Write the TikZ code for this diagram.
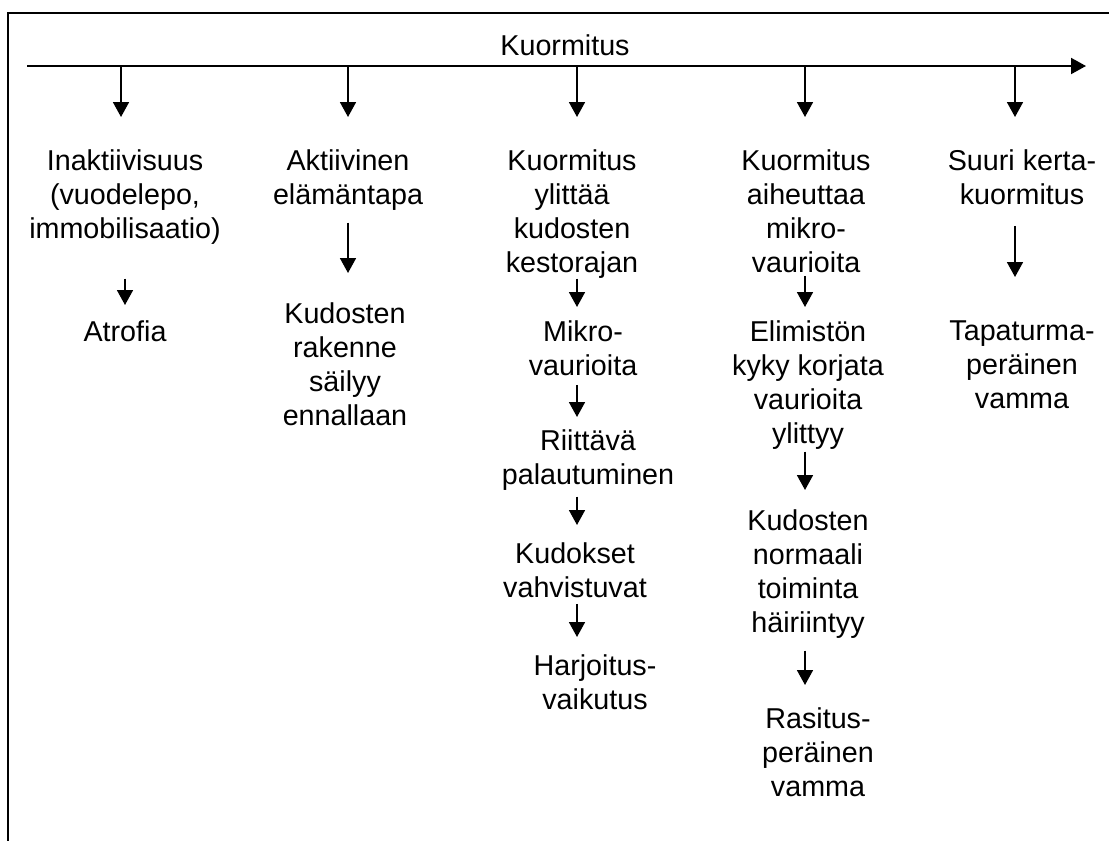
\documentclass[tikz,border=0pt]{standalone}
\usepackage{fontspec}
\setmainfont{Liberation Sans}
\usetikzlibrary{arrows.meta}

\tikzset{
  txt/.style={align=center, inner sep=0pt, anchor=north,
    font=\fontsize{14.35pt}{17pt}\selectfont},
  arr/.style={-{Triangle[length=7.5pt,width=8pt]}, line width=0.9pt},
}

\begin{document}
\begin{tikzpicture}[x=0.5pt, y=-0.5pt]
    \useasboundingbox (0,0) rectangle (1109,841);
    \draw[line width=0.8pt] (1109,13) -- (8,13) -- (8,841);

    \node[txt, anchor=center] (K) at (565,45) {Kuormitus};
    \coordinate (s) at (27,66);
    \coordinate (e) at (1086,66);
    \coordinate (k1) at (121,66);
    \coordinate (k2) at (348,66);
    \coordinate (k3) at (577,66);
    \coordinate (k4) at (805,66);
    \coordinate (k5) at (1015,66);

    \node[txt] (I) at (125,149) {Inaktiivisuus\\(vuodelepo,\\immobilisaatio)};
    \node[txt] (At) at (125,320) {Atrofia};
    \node[txt] (Ak) at (348,149) {Aktiivinen\\elämäntapa};
    \node[txt] (Ks) at (345,302) {Kudosten\\rakenne\\säilyy\\ennallaan};
    \node[txt] (Y) at (572,149) {Kuormitus\\ylittää\\kudosten\\kestorajan};
    \node[txt] (M) at (583,320) {Mikro-\\vaurioita};
    \node[txt] (R) at (588,429) {Riittävä\\palautuminen};
    \node[txt] (V) at (575,542) {Kudokset\\vahvistuvat};
    \node[txt] (H) at (595,654) {Harjoitus-\\vaikutus};
    \node[txt] (Ah) at (806,149) {Kuormitus\\aiheuttaa\\mikro-\\vaurioita};
    \node[txt] (E) at (808,320) {Elimistön\\kyky korjata\\vaurioita\\ylittyy};
    \node[txt] (N) at (808,509) {Kudosten\\normaali\\toiminta\\häiriintyy};
    \node[txt] (Rv) at (818,707) {Rasitus-\\peräinen\\vamma};
    \node[txt] (S) at (1022,149) {Suuri kerta-\\kuormitus};
    \node[txt] (T) at (1022,320) {Tapaturma-\\peräinen\\vamma};

    \draw[arr, line width=1pt] (s) -- (e);

    \path[arr]
    (k1) edge [shorten >=16pt] (I.north -| k1)
    (k2) edge [shorten >=16pt] (Ak.north -| k2)
    (k3) edge [shorten >=16pt] (Y.north -| k3)
    (k4) edge [shorten >=16pt] (Ah.north -| k4)
    (k5) edge [shorten >=16pt] (S.north -| k5)
    (I.south) edge [shorten <=17pt, shorten >=7.5pt] (At.north)
    (Ak.south -| k2) edge [shorten <=6pt, shorten >=14.5pt] (Ks.north -| k2)
    (Y.south -| k3) edge [shorten >=6.5pt] (M.north -| k3)
    (M.south -| k3) edge [shorten <=4.5pt, shorten >=6pt] (R.north -| k3)
    (R.south -| k3) edge [shorten <=3pt, shorten >=8.5pt] (V.north -| k3)
    (V.south -| k3) edge [shorten <=3pt, shorten >=8.5pt] (H.north -| k3)
    (Ah.south -| k4) edge [shorten <=1.5pt, shorten >=6.5pt] (E.north -| k4)
    (E.south -| k4) edge [shorten <=1pt, shorten >=9.5pt] (N.north -| k4)
    (N.south -| k4) edge [shorten <=6pt, shorten >=11pt] (Rv.north -| k4)
    (S.south -| k5) edge [shorten <=10.5pt, shorten >=21.5pt] (T.north -| k5)
    ;
\end{tikzpicture}
\end{document}
